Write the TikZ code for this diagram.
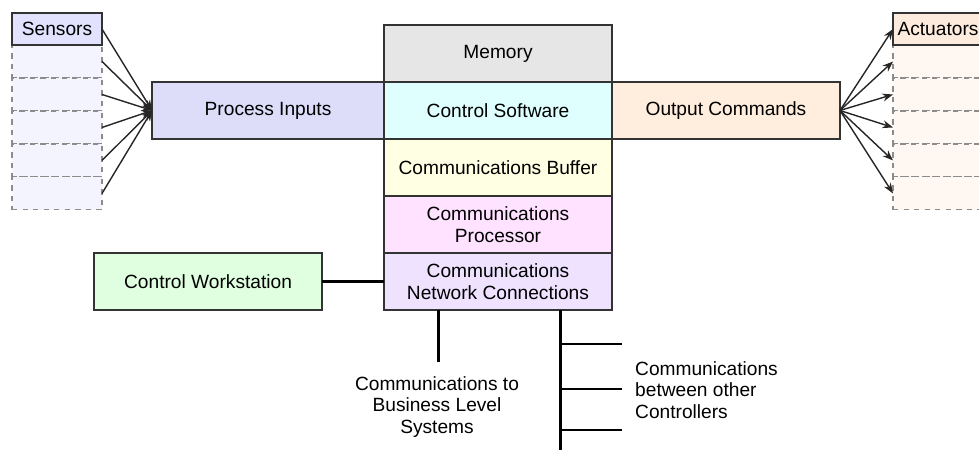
\documentclass[tikz,border=0pt]{standalone}
\usepackage{fontspec}
\setmainfont{Liberation Sans}
\usetikzlibrary{chains}
\usetikzlibrary{positioning,arrows.meta}

\definecolor{memfill}{HTML}{E6E6E6}
\definecolor{softfill}{HTML}{DFFFFF}
\definecolor{buffill}{HTML}{FFFFE3}
\definecolor{procfill}{HTML}{FFE2FF}
\definecolor{netfill}{HTML}{EEE2FF}
\definecolor{inpfill}{HTML}{DDDDFA}
\definecolor{outfill}{HTML}{FFEEDD}
\definecolor{wsfill}{HTML}{E0FFE0}
\definecolor{sensfill}{HTML}{E2E2FF}
\definecolor{sensslot}{HTML}{F4F4FF}
\definecolor{actfill}{HTML}{FDECDE}
\definecolor{actslot}{HTML}{FFF8F2}

\begin{document}
\begin{tikzpicture}[x=0.02cm,y=-0.02cm]
    \edef\boxw{4.56cm}
    \edef\boxh{1.14cm}
    \tikzstyle{plcbox}=[draw=black!80,line width=0.8pt,minimum width=\boxw,
    minimum height=\boxh,inner sep=1pt,outer sep=0pt,align=center,
    font=\fontsize{10.9}{12.4}\selectfont]
    \tikzstyle{iolabel}=[draw=black!80,line width=0.8pt,minimum width=1.8cm,
    minimum height=0.64cm,inner sep=0pt,outer sep=0pt,font=\fontsize{10.9}{12.4}\selectfont]
    \tikzstyle{ioslot}=[draw=black!45,dashed,line width=0.6pt,minimum width=1.8cm,
    minimum height=0.66cm,inner sep=0pt,outer sep=0pt]
    \tikzstyle{signal}=[-{Stealth[length=6pt,width=4.5pt]},line width=0.8pt,black!85]
    \tikzstyle{netline}=[line width=1.7pt]
    \tikzstyle{note}=[font=\fontsize{10.9}{12.2}\selectfont]

    \useasboundingbox (0,0) rectangle (979,449);

    % controller column
    \begin{scope}[start chain=plc going below,node distance=0pt]
        \node [on chain=plc,plcbox,fill=memfill] (mem) at (498,53.5) {Memory};
        \node [on chain=plc,plcbox,fill=softfill] (soft) {Control Software};
        \node [on chain=plc,plcbox,fill=buffill] (buf) {Communications Buffer};
        \node [on chain=plc,plcbox,fill=procfill] (proc) {Communications\\Processor};
        \node [on chain=plc,plcbox,fill=netfill] (net) {Communications\\Network Connections};
    \end{scope}

    \node [plcbox,fill=inpfill,minimum width=4.64cm,left=0pt of soft] (inp) {Process Inputs};
    \node [plcbox,fill=outfill,right=0pt of soft] (outp) {Output Commands};
    \node [plcbox,fill=wsfill,left=1.24cm of net] (ws) {Control Workstation};

    % sensors
    \begin{scope}[start chain=sens going below,node distance=0pt]
        \node [on chain=sens,ioslot,draw=none,iolabel,fill=sensfill] (sensors) at (57,29) {Sensors};
        \node [on chain=sens,ioslot,fill=sensslot] (s1) {};
        \node [on chain=sens,ioslot,fill=sensslot] (s2) {};
        \node [on chain=sens,ioslot,fill=sensslot] (s3) {};
        \node [on chain=sens,ioslot,fill=sensslot] (s4) {};
        \node [on chain=sens,ioslot,fill=sensslot] (s5) {};
    \end{scope}
    \draw [line width=0.8pt,black!80] (sensors.south west) rectangle (sensors.north east);

    % actuators
    \begin{scope}[start chain=act going below,node distance=0pt]
        \node [on chain=act,ioslot,draw=none,iolabel,fill=actfill] (actuators) at (938,29) {Actuators};
        \node [on chain=act,ioslot,fill=actslot] (a1) {};
        \node [on chain=act,ioslot,fill=actslot] (a2) {};
        \node [on chain=act,ioslot,fill=actslot] (a3) {};
        \node [on chain=act,ioslot,fill=actslot] (a4) {};
        \node [on chain=act,ioslot,fill=actslot] (a5) {};
    \end{scope}
    \draw [line width=0.8pt,black!80] (actuators.south west) rectangle (actuators.north east);

    \draw [signal] (sensors.east) -- (inp.west);
    \foreach \i in {1,...,5}
        \draw [signal] (s\i.east) -- (inp.west);
    \draw [signal] (outp.east) -- (actuators.west);
    \foreach \i in {1,...,5}
        \draw [signal] (outp.east) -- (a\i.west);

    % network
    \draw [netline] (ws) -- (net);
    \coordinate (biz) at (438,362);
    \draw [netline] (biz |- net.south) -- (biz);
    \coordinate (trunk) at (560,452);
    \draw [netline] (trunk |- net.south) -- (trunk);
    \foreach \y [count=\i] in {344,389,430} {
        \coordinate (tap\i) at (560,\y);
        \coordinate (ctl\i) at (622,\y);
        \draw [netline] (tap\i) -- (ctl\i);
    }

    \node [note,align=center] (biztext) at (437,407) {Communications to\\Business Level\\Systems};
    \node [note,align=left,anchor=west] (ctltext) at (629,390) {Communications\\between other\\Controllers};
\end{tikzpicture}
\end{document}
